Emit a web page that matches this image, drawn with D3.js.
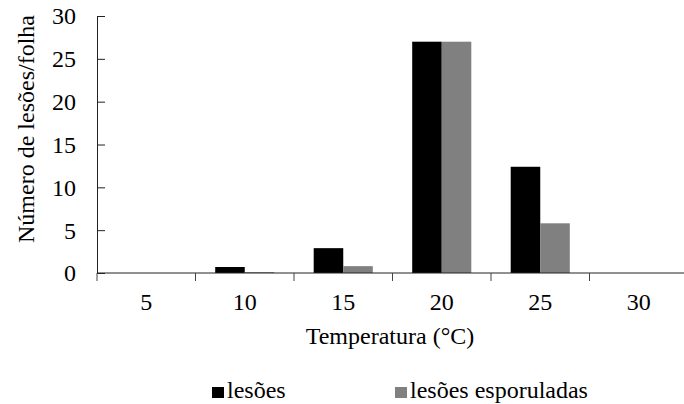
<!DOCTYPE html>
<html>
<head>
<meta charset="utf-8">
<script src="https://cdn.jsdelivr.net/npm/d3@7"></script>
<style>
  body { margin: 0; background: #fff; }
  text { font-family: "Liberation Serif", "Times New Roman", serif; fill: #000; }
</style>
</head>
<body>
<div id="chart"></div>
<script>
// dados
const temperaturas = ["5", "10", "15", "20", "25", "30"]
const series = ["lesões", "lesões esporuladas"]
const lesoes = [0, 0.7, 2.9, 27, 12.4, 0]
const lesoesEsporuladas = [0, 0.1, 0.8, 27, 5.8, 0]
const yTicks = [0, 5, 10, 15, 20, 25, 30]
const cores = ["#000000", "#808080"]

const width = 684
const height = 404
const margin = { top: 16, bottom: 131, left: 97, right: -4 }
const fontSize = "24px"

const svg = d3.select("#chart")
    .append("svg")
    .attr("width", width)
    .attr("height", height)

// escalas
const x0 = d3.scaleBand()
    .domain(temperaturas)
    .range([margin.left, width - margin.right])
    .padding(0)
const x1 = d3.scaleBand()
    .domain(series)
    .range([x0.bandwidth() * 0.2, x0.bandwidth() * 0.8])
const y = d3.scaleLinear()
    .domain([0, 30])
    .range([height - margin.bottom, margin.top])
const color = d3.scaleOrdinal().domain(series).range(cores)

const dados = temperaturas.map((t, i) => ({
    temp: t,
    valores: [
        { serie: series[0], v: lesoes[i] },
        { serie: series[1], v: lesoesEsporuladas[i] }
    ]
}))

// barras
const grupos = svg.append("g")
    .selectAll("g")
    .data(dados)
    .join("g")
    .attr("transform", d => `translate(${x0(d.temp)},0)`)

grupos.selectAll("rect")
    .data(d => d.valores)
    .join("rect")
    .attr("x", d => x1(d.serie))
    .attr("width", x1.bandwidth())
    .attr("y", d => y(d.v))
    .attr("height", d => y(0) - y(d.v))
    .attr("fill", d => color(d.serie))

// eixo y (ticks para dentro)
const yAxis = svg.append("g")
    .attr("transform", `translate(${margin.left},0)`)
    .call(d3.axisRight(y).tickValues(yTicks).tickSize(8).tickFormat(""))
yAxis.select(".domain").attr("stroke", "#222")
yAxis.selectAll(".tick line").attr("stroke", "#222")

svg.append("g")
    .selectAll("text")
    .data(yTicks)
    .join("text")
    .attr("x", margin.left - 21)
    .attr("y", d => y(d))
    .attr("dy", "0.35em")
    .attr("text-anchor", "end")
    .style("font-size", fontSize)
    .text(d => d)

// eixo x (ticks nas fronteiras das categorias)
const xAxisG = svg.append("g")
    .attr("transform", `translate(0,${y(0)})`)
xAxisG.append("line")
    .attr("x1", margin.left).attr("x2", width)
    .attr("stroke", "#222")
xAxisG.selectAll("line.tk")
    .data(temperaturas)
    .join("line")
    .attr("class", "tk")
    .attr("x1", d => x0(d)).attr("x2", d => x0(d))
    .attr("y1", 0).attr("y2", 8)
    .attr("stroke", "#444")

svg.append("g")
    .selectAll("text")
    .data(temperaturas)
    .join("text")
    .attr("x", d => x0(d) + x0.bandwidth() / 2)
    .attr("y", 310)
    .attr("text-anchor", "middle")
    .style("font-size", fontSize)
    .text(d => d)

// títulos dos eixos
svg.append("text")
    .attr("x", 390)
    .attr("y", 344)
    .attr("text-anchor", "middle")
    .style("font-size", fontSize)
    .text("Temperatura (°C)")

svg.append("text")
    .attr("transform", `translate(34,129) rotate(-90)`)
    .attr("text-anchor", "middle")
    .style("font-size", fontSize)
    .text("Número de lesões/folha")

// legenda
const legX = [212, 395]
const leg = svg.append("g")
    .selectAll("g")
    .data(series)
    .join("g")
    .attr("transform", (d, i) => `translate(${legX[i]},387)`)
leg.append("rect")
    .attr("width", 12).attr("height", 11)
    .attr("fill", d => color(d))
leg.append("text")
    .attr("x", 15)
    .attr("y", 11)
    .style("font-size", fontSize)
    .text(d => d)
</script>
</body>
</html>
